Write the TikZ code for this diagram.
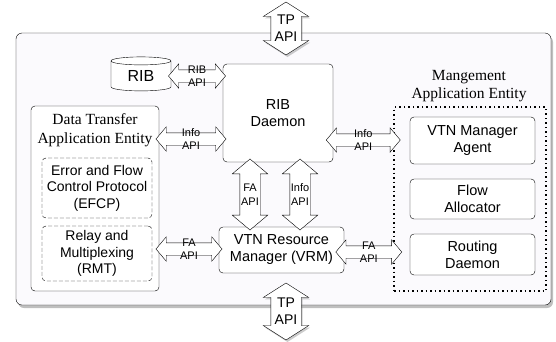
\documentclass[tikz,border=0pt]{standalone}
\usepackage{fontspec}
\setmainfont{Liberation Serif}
\setsansfont{Liberation Sans}
\usetikzlibrary{shapes,arrows,positioning,calc,shadows}
\definecolor{lav}{RGB}{251,250,253}
\tikzset{
  box/.style = {draw, rectangle, rounded corners=4pt, fill=white, align=center, inner sep=0pt,
                font=\sffamily\fontsize{14.5}{17}\selectfont},
  subbox/.style = {box, dash pattern=on 4pt off 2pt, font=\sffamily\fontsize{14}{16.5}\selectfont},
  entity/.style = {align=center, inner sep=0pt, font=\rmfamily\fontsize{15.5}{18.5}\selectfont},
  fat/.style = {double arrow, draw, fill=white, inner sep=0pt, text depth=0pt, double arrow tip angle=100},
  hfat/.style = {fat, text height=12pt, double arrow head extend=6pt},
  vfat/.style = {fat, rotate=90, text height=20pt, double arrow head extend=7.5pt},
  tpfat/.style = {fat, rotate=90, text height=30pt, double arrow head extend=7.5pt, double arrow tip angle=115,
                  drop shadow={opacity=0.4, shadow xshift=1.5pt, shadow yshift=-2pt}},
  apilbl/.style = {align=center, inner sep=0pt, font=\sffamily\fontsize{11}{13.5}\selectfont},
  tplbl/.style = {align=center, inner sep=0pt, font=\sffamily\fontsize{14}{17}\selectfont}
}

\begin{document}
\begin{tikzpicture}[x=1pt, y=-1pt]
    \useasboundingbox (0,0) rectangle (556,341);

    % outer frame
    \node [draw, rectangle, rounded corners=6pt, fill=lav, minimum width=535pt, minimum height=272pt,
           drop shadow={opacity=0.5, shadow xshift=2pt, shadow yshift=-3pt}] (frame) at (283.5,169) {};

    % RIB and its daemon
    \node [draw, cylinder, shape border rotate=90, aspect=0.3, fill=white, minimum width=60pt, minimum height=34pt,
           inner sep=0pt, font=\sffamily\fontsize{16}{19}\selectfont] (rib) at (141,76) {RIB};
    \node [box, minimum width=110pt, minimum height=98pt] (ribd) at (278,113) {RIB\\Daemon};

    % data transfer side
    \node [box, minimum width=128pt, minimum height=185pt] (dt) at (95,198.5) {};
    \node [entity] (dttitle) at (95,130) {Data Transfer\\Application Entity};
    \node [subbox, minimum width=110pt, minimum height=60pt] (efcp) at (97,188) {Error and Flow\\Control Protocol\\(EFCP)};
    \node [subbox, minimum width=110pt, minimum height=55pt] (rmt) at (97,253.5) {Relay and\\Multiplexing\\(RMT)};

    % resource manager
    \node [box, minimum width=125pt, minimum height=46pt] (vrm) at (281.5,250) {VTN Resource\\Manager (VRM)};

    % management side
    \node [draw, rectangle, line width=1.2pt, dash pattern=on 1.5pt off 3pt, minimum width=152pt, minimum height=184pt] (mg) at (470,199) {};
    \node [entity] (mgtitle) at (469,86) {Mangement\\Application Entity};
    \node [box, minimum width=125pt, minimum height=47pt] (vtn) at (472.5,140.5) {VTN Manager\\Agent};
    \node [box, minimum width=125pt, minimum height=40pt] (fal) at (472.5,199) {Flow\\Allocator};
    \node [box, minimum width=125pt, minimum height=41pt] (rd) at (472.5,254.5) {Routing\\Daemon};

    % APIs
    \node [tpfat, minimum height=53pt] (tptop) at (286,28.5) {};
    \node [tplbl] at (tptop) {TP\\API};
    \node [tpfat, minimum height=57pt] (tpbot) at (286,311.5) {};
    \node [tplbl] at (tpbot) {TP\\API};

    \node [hfat, minimum height=57pt] (ribapi) at ($(rib.east)!.5!(ribd.west |- rib.east)$) {};
    \node [apilbl] at (ribapi) {RIB\\API};
    \node [hfat, minimum height=70pt] (dtinfo) at ($(dt.east |- 0,139)!.5!(ribd.west |- 0,139)$) {};
    \node [apilbl] at (dtinfo) {Info\\API};
    \node [hfat, minimum height=74pt] (mginfo) at ($(ribd.east |- 0,140)!.5!(mg.west |- 0,140)$) {};
    \node [apilbl] at (mginfo) {Info\\API};

    \node [vfat, minimum height=71pt] (fav) at ($(ribd.south -| 250,0)!.5!(vrm.north -| 250,0)$) {};
    \node [apilbl] at (fav) {FA\\API};
    \node [vfat, minimum height=71pt] (infov) at ($(ribd.south -| 300,0)!.5!(vrm.north -| 300,0)$) {};
    \node [apilbl] at (infov) {Info\\API};

    \node [hfat, minimum height=66pt] (dtfa) at ($(dt.east |- 0,249)!.5!(vrm.west |- 0,249)$) {};
    \node [apilbl] at (dtfa) {FA\\API};
    \node [hfat, minimum height=66pt] (mgfa) at ($(vrm.east |- 0,252)!.5!(mg.west |- 0,252)$) {};
    \node [apilbl] at (mgfa) {FA\\API};
\end{tikzpicture}
\end{document}
